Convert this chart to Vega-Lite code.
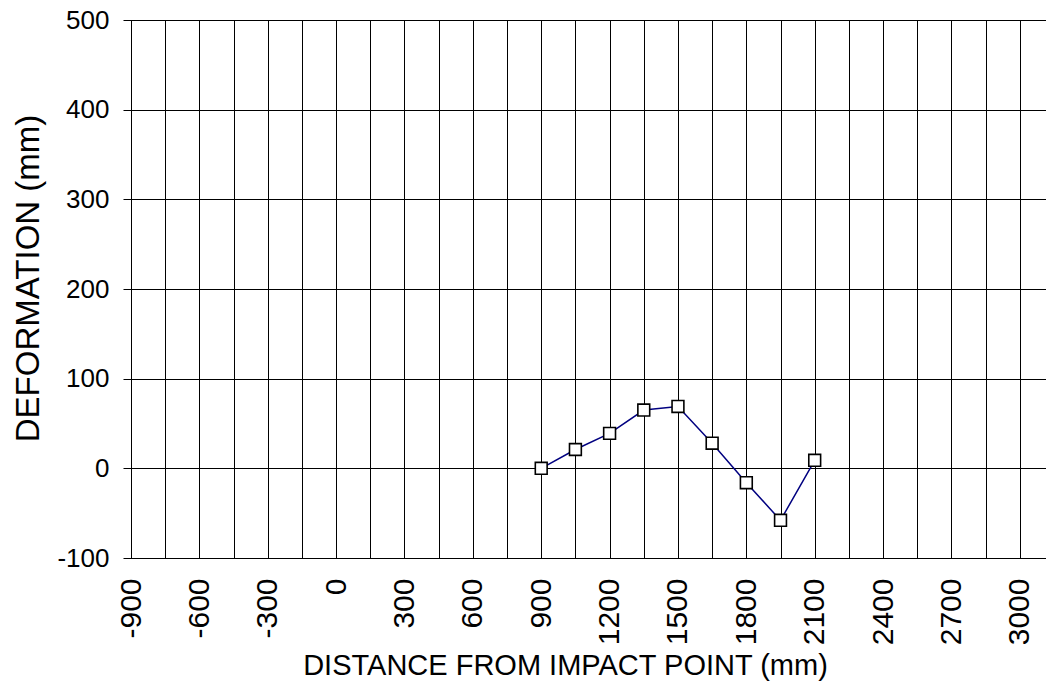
{
  "$schema": "https://vega.github.io/schema/vega-lite/v6.json",
  "width": 923,
  "height": 538,
  "autosize": {"type": "none"},
  "padding": {"left": 131, "top": 20, "right": 0, "bottom": 134},
  "background": "white",
  "config": {
    "font": "Liberation Sans",
    "view": {"stroke": "#000", "strokeWidth": 1}
  },
  "data": {
    "values": [
      {"distance": 900, "deformation": 0},
      {"distance": 1050, "deformation": 21},
      {"distance": 1200, "deformation": 39},
      {"distance": 1350, "deformation": 65},
      {"distance": 1500, "deformation": 69},
      {"distance": 1650, "deformation": 28},
      {"distance": 1800, "deformation": -16},
      {"distance": 1950, "deformation": -58},
      {"distance": 2100, "deformation": 9}
    ]
  },
  "encoding": {
    "x": {
      "field": "distance",
      "type": "quantitative",
      "scale": {"domain": [-900, 3150], "nice": false, "zero": false},
      "axis": {
        "title": "DISTANCE FROM IMPACT POINT (mm)",
        "values": [-900, -750, -600, -450, -300, -150, 0, 150, 300, 450, 600, 750, 900, 1050, 1200, 1350, 1500, 1650, 1800, 1950, 2100, 2250, 2400, 2550, 2700, 2850, 3000, 3150],
        "format": "d",
        "labelExpr": "datum.value % 300 == 0 && datum.value < 3100 ? replace(datum.label, '−', '-') : ''",
        "labelAngle": 270,
        "labelAlign": "right",
        "labelBaseline": "middle",
        "labelFontSize": 30,
        "labelColor": "#000",
        "labelPadding": 20,
        "labelOverlap": false,
        "labelBound": false,
        "labelFlush": false,
        "ticks": false,
        "tickSize": 0,
        "domainColor": "#000",
        "grid": true,
        "gridColor": "#000",
        "gridOpacity": 1,
        "gridWidth": 1,
        "titleFontSize": 29,
        "titleFontWeight": "normal",
        "titleColor": "#000",
        "titleX": 434,
        "titleY": 107,
        "titleAlign": "center",
        "titleBaseline": "middle"
      }
    },
    "y": {
      "field": "deformation",
      "type": "quantitative",
      "scale": {"domain": [-100, 500], "nice": false},
      "axis": {
        "title": "DEFORMATION (mm)",
        "values": [-100, 0, 100, 200, 300, 400, 500],
        "labelExpr": "replace(datum.label, '−', '-')",
        "labelFontSize": 26,
        "labelColor": "#000",
        "labelPadding": 14,
        "tickSize": 8,
        "tickColor": "#000",
        "domainColor": "#000",
        "grid": true,
        "gridColor": "#000",
        "gridOpacity": 1,
        "gridWidth": 1,
        "titleFontSize": 33,
        "titleFontWeight": "normal",
        "titleColor": "#000",
        "titleAngle": 270,
        "titleX": -103,
        "titleY": 258,
        "titleAlign": "center",
        "titleBaseline": "middle"
      }
    }
  },
  "layer": [
    {"mark": {"type": "line", "color": "#000080", "strokeWidth": 1.5}},
    {"mark": {"type": "point", "shape": "square", "filled": true, "fill": "white", "stroke": "#000", "strokeWidth": 1.6, "size": 140, "opacity": 1}}
  ]
}
